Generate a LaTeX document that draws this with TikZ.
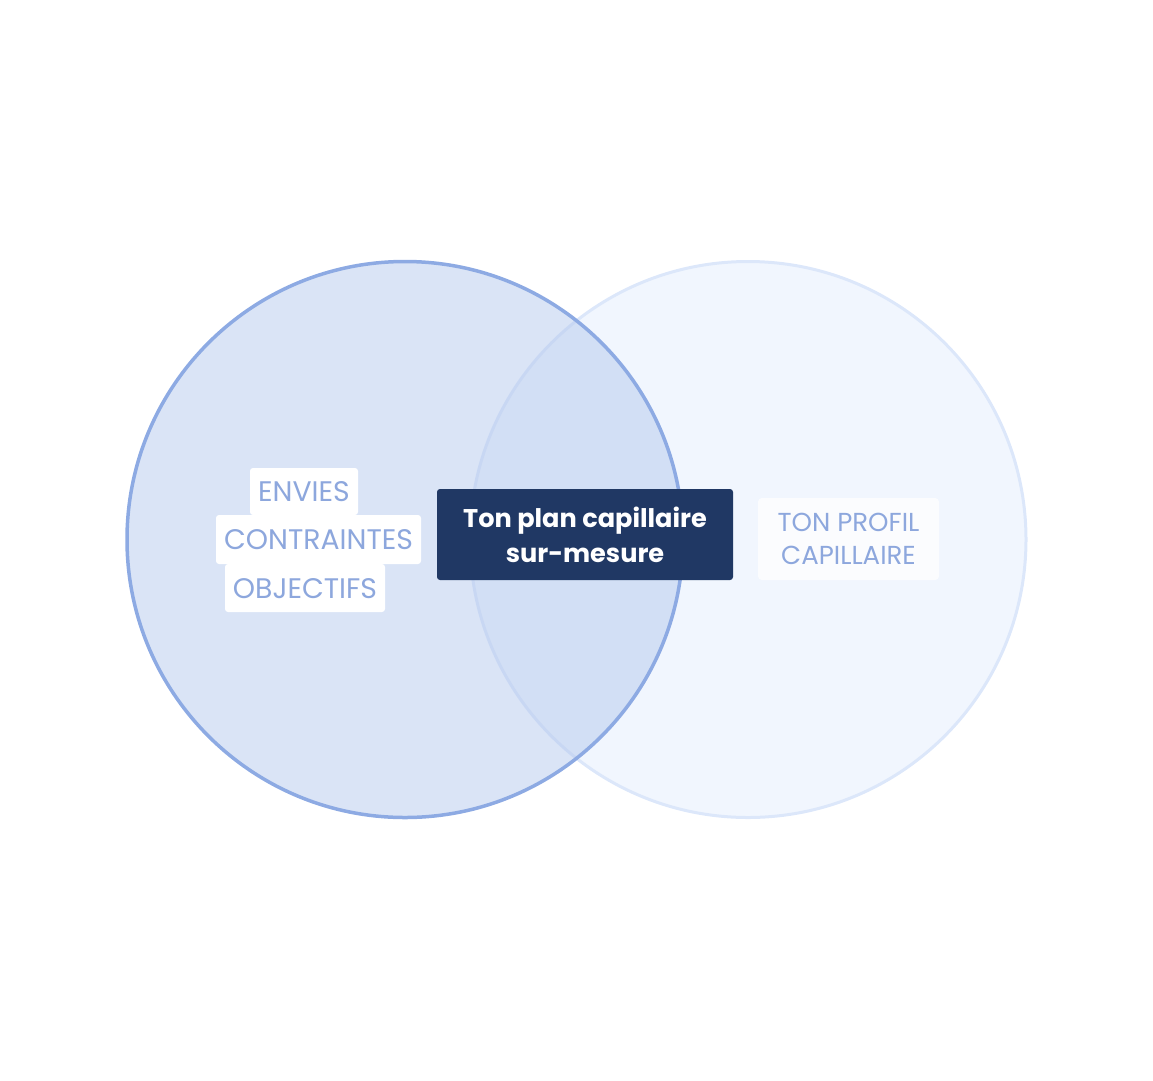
\documentclass[tikz,border=0pt]{standalone}
\usepackage{fontspec}
\setmainfont{Poppins}[BoldFont={* Bold}]
\definecolor{leftfill}{HTML}{B5C9ED}
\definecolor{leftline}{HTML}{8DAAE3}
\definecolor{rightfill}{HTML}{F1F6FE}
\definecolor{rightline}{HTML}{DCE7FA}
\definecolor{labeltext}{HTML}{8DA7DD}
\definecolor{navy}{HTML}{203864}
\tikzset{
  tag/.style={fill=white, rounded corners=3pt, text=labeltext, inner sep=0pt,
    font=\fontsize{28.3}{33}\selectfont, text height=20pt, text depth=0pt},
  mainbox/.style={fill=navy, rounded corners=3pt, text=white, inner sep=0pt, align=center,
    font=\fontsize{25.6}{35}\selectfont\bfseries},
  profilebox/.style={fill=white, fill opacity=0.75, text opacity=1, rounded corners=4pt, text=labeltext,
    inner sep=0pt, align=center, font=\fontsize{26}{33}\selectfont}
}
\begin{document}
\begin{tikzpicture}[x=1pt,y=-1pt]
\useasboundingbox (0,0) rectangle (1153,1080);
% right circle (behind)
\node[circle, minimum size=556pt, inner sep=0pt, fill=rightfill, draw=rightline, line width=3pt] (right) at (748,539.5) {};
% left circle (front, translucent)
\node[circle, minimum size=556pt, inner sep=0pt, fill=leftfill, fill opacity=0.5, draw=leftline, draw opacity=1, line width=3.5pt] (left) at (405,539.5) {};
% left labels
\node[tag, minimum width=108pt, minimum height=47pt] (envies) at (304,491.5) {ENVIES};
\node[tag, minimum width=205pt, minimum height=49pt] (contraintes) at (318.5,539.5) {CONTRAINTES};
\node[tag, minimum width=160pt, minimum height=48pt] (objectifs) at (305,588) {OBJECTIFS};
% central box
\node[mainbox, minimum width=296pt, minimum height=91pt] (plan) at (585,534.5) {Ton plan capillaire\\sur-mesure};
% right label
\node[profilebox, minimum width=181pt, minimum height=82pt] (profil) at (848.5,539) {TON PROFIL\\CAPILLAIRE};
\end{tikzpicture}
\end{document}
